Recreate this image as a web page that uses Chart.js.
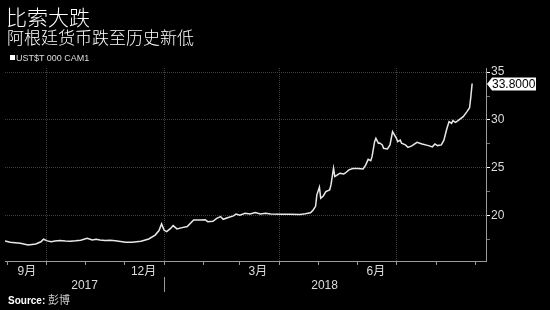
<!DOCTYPE html>
<html>
<head>
<meta charset="utf-8">
<script src="https://cdn.jsdelivr.net/npm/chart.js@4.4.0/dist/chart.umd.min.js"></script>
<style>
	html, body { margin: 0; padding: 0; background: #000; }
	#wrap { position: relative; width: 550px; height: 310px; overflow: hidden; color: #fff; font-family: "Liberation Sans", "Noto Sans CJK SC", sans-serif; }
	#chartPlace { position: absolute; left: 0; top: 0; }
	.title1 { position: absolute; left: 6px; top: 6px; font-size: 21px; line-height: 21px; font-family: "Noto Sans CJK SC"; font-weight: 300; }
	.title2 { position: absolute; left: 7px; top: 28px; font-size: 17px; line-height: 17px; font-family: "Noto Sans CJK SC"; font-weight: 300; }
	.legend { position: absolute; left: 10px; top: 53px; font-size: 9px; line-height: 10px; color: #ddd; }
	.legend span { display: inline-block; width: 5px; height: 5px; background: #fff; margin-right: 1px; vertical-align: 1px; }
	.source { position: absolute; left: 8px; top: 292px; font-size: 10px; line-height: 14px; font-weight: bold; }
	.source span { font-weight: normal; font-size: 11px; color: #ccc; font-family: "Noto Sans CJK SC"; }
</style>
</head>
<body>
<div id="wrap">
	<canvas id="chartPlace" width="550" height="310"></canvas>
	<div class="title1">比索大跌</div>
	<div class="title2">阿根廷货币跌至历史新低</div>
	<div class="legend"><span></span>UST$T 000 CAM1</div>
	<div class="source">Source: <span>彭博</span></div>
</div>
<script>
// days counted from 2017-09-01
var rateDays = [-2, 2, 10, 16, 22, 26, 28, 31, 34, 37, 41, 45, 49, 53, 57, 62, 66, 69, 72, 76,
	80, 84, 88, 92, 97, 104, 110, 115, 118, 120, 122, 124, 127, 129, 132, 136, 140, 145, 150, 154,
	156, 160, 163, 166, 168, 172, 176, 178, 181, 185, 189, 193, 197, 201, 205, 213, 220, 228, 232, 236,
	238, 240, 241, 243, 244, 246, 248, 251, 252, 254, 255, 257, 259, 262, 263, 266, 269, 273, 277, 279,
	281, 283, 284, 286, 287, 289, 290, 292, 293, 296, 298, 300, 303, 304, 306, 307, 310, 312, 315, 319,
	323, 328, 331, 333, 335, 338, 340, 342, 344, 346, 347, 349, 351, 355, 358, 360, 361, 362];
var rates = [17.40, 17.26, 17.15, 16.98, 17.08, 17.30, 17.57, 17.40, 17.30, 17.38, 17.43, 17.38, 17.36, 17.40, 17.47, 17.68, 17.50, 17.57, 17.50, 17.43,
	17.45, 17.40, 17.33, 17.26, 17.26, 17.36, 17.60, 18.00, 18.47, 19.17, 18.50, 18.37, 18.70, 18.99, 18.65, 18.78, 18.90, 19.58, 19.58, 19.60,
	19.40, 19.44, 19.75, 19.93, 19.65, 19.83, 20.00, 20.20, 20.07, 20.28, 20.20, 20.35, 20.20, 20.28, 20.20, 20.17, 20.17, 20.15, 20.22, 20.32,
	20.60, 21.00, 22.20, 22.99, 21.84, 22.08, 22.53, 22.70, 23.23, 24.97, 24.10, 24.27, 24.45, 24.38, 24.45, 24.80, 24.93, 24.93, 24.90, 25.30,
	25.90, 25.76, 26.18, 27.74, 28.09, 27.57, 27.60, 27.40, 27.05, 26.98, 27.40, 28.78, 28.09, 27.74, 27.90, 27.57, 27.40, 27.15, 27.30, 27.67,
	27.50, 27.33, 27.20, 27.50, 27.33, 27.40, 27.90, 28.96, 29.83, 29.65, 29.93, 29.76, 29.93, 30.35, 30.87, 31.28, 32.43, 33.80];

var monthStarts = [0, 30, 61, 91, 122, 153, 181, 212, 242, 273, 303, 334, 365];
var quarterStarts = [30, 122, 212, 303];
var monthLabelDays = [15, 106, 195, 287];
var monthLabels = ['9月', '12月', '3月', '6月'];
var yearBreak = 122;
var yearLabelDays = [60, 247];
var yearLabels = ['2017', '2018'];
var yTicks = [17.5, 20, 22.5, 25, 27.5, 30, 32.5, 35];
var yLabelled = [20, 25, 30, 35];

var gridColor = '#3e3e3e';
var axisColor = '#9a9a9a';
var textColor = '#dcdcdc';

Chart.defaults.font.family = '"Liberation Sans", "Noto Sans CJK SC", sans-serif';
Chart.defaults.font.size = 12;

/* white value box on the right axis */
const lastLabel = {
	id: 'lastLabel',
	afterDraw(chart) {
		const ctx = chart.ctx;
		const v = rates[rates.length - 1];
		const py = Math.round(chart.scales.y.getPixelForValue(v));
		const left = chart.chartArea.right + 1;
		ctx.save();
		ctx.fillStyle = '#fff';
		ctx.beginPath();
		ctx.moveTo(left, py);
		ctx.lineTo(left + 5, py - 6.5);
		ctx.lineTo(left + 49, py - 6.5);
		ctx.lineTo(left + 49, py + 6.5);
		ctx.lineTo(left + 5, py + 6.5);
		ctx.closePath();
		ctx.fill();
		ctx.fillStyle = '#000';
		ctx.font = '12px "Liberation Sans"';
		ctx.textBaseline = 'middle';
		ctx.fillText(v.toFixed(4), left + 5, py + 0.5);
		ctx.restore();
	}
};

var points = [];
for (var i = 0; i < rateDays.length; i++) {
	points.push({x: rateDays[i], y: rates[i]});
}

var chartPlace = document.getElementById('chartPlace').getContext('2d');
var chartRate = new Chart(chartPlace, {
	type: 'line',
	data: {
		datasets: [{
			label: 'UST$T 000 CAM1',
			data: points,
			borderColor: '#e8e8e8',
			borderWidth: 1.5,
			pointRadius: 0,
			tension: 0
		}]
	},
	options: {
		responsive: false,
		animation: false,
		layout: { padding: { top: 68, left: 5, right: 0, bottom: 0 } },
		plugins: {
			legend: { display: false },
			title: { display: false },
			tooltip: { enabled: false }
		},
		scales: {
			x: {
				type: 'linear', position: 'bottom', weight: 1,
				min: -2, max: 372.8,
				afterBuildTicks: function (s) { s.ticks = monthStarts.map(v => ({value: v})); },
				afterFit: function (s) { s.height = 4; },
				ticks: { display: false },
				grid: {
					color: c => (c.tick && quarterStarts.includes(c.tick.value)) ? gridColor : 'transparent',
					tickColor: axisColor,
					tickLength: 4
				},
				border: { color: axisColor, dash: [1, 1] }
			},
			xm: {
				type: 'linear', position: 'bottom', weight: 2,
				min: -2, max: 372.8,
				afterBuildTicks: function (s) { s.ticks = monthLabelDays.map(v => ({value: v})); },
				afterFit: function (s) { s.height = 12; },
				ticks: {
					callback: v => monthLabels[monthLabelDays.indexOf(v)],
					color: textColor, padding: -1, maxRotation: 0, autoSkip: false
				},
				grid: { display: false, drawTicks: false },
				border: { display: false }
			},
			xy: {
				type: 'linear', position: 'bottom', weight: 3,
				min: -2, max: 372.8,
				afterBuildTicks: function (s) {
					s.ticks = [{value: yearLabelDays[0]}, {value: yearBreak}, {value: yearLabelDays[1]}];
				},
				afterFit: function (s) { s.height = 33; },
				ticks: {
					callback: v => v == yearBreak ? '' : yearLabels[yearLabelDays.indexOf(v)],
					color: textColor, padding: -14, maxRotation: 0, autoSkip: false
				},
				grid: {
					drawOnChartArea: false,
					color: 'transparent',
					tickColor: c => (c.tick && c.tick.value == yearBreak) ? axisColor : 'transparent',
					tickLength: 15
				},
				border: { display: false }
			},
			y: {
				type: 'linear', position: 'right', weight: 1,
				min: 15.3, max: 35.42,
				afterBuildTicks: function (s) { s.ticks = yTicks.map(v => ({value: v})); },
				afterFit: function (s) { s.width = 64; },
				ticks: {
					callback: v => yLabelled.includes(v) ? String(v) : '',
					color: textColor, padding: 1
				},
				grid: {
					color: c => (c.tick && yLabelled.includes(c.tick.value)) ? gridColor : 'transparent',
					tickColor: c => (c.tick && yLabelled.includes(c.tick.value)) ? '#fff' : '#777',
					tickLength: 4
				},
				border: { color: axisColor, dash: [1, 1] }
			}
		}
	},
	plugins: [lastLabel]
});
</script>
</body>
</html>
